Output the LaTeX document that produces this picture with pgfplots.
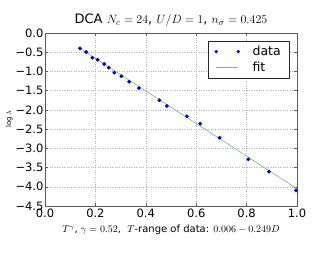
\documentclass[border=0pt]{standalone}
\usepackage{pgfplots}
\pgfplotsset{compat=1.18}
\usepackage{fontspec}
\setmainfont{DejaVu Sans}
\definecolor{fitgreen}{RGB}{110,190,110}
\definecolor{framegray}{RGB}{90,90,90}
\begin{document}
\begin{tikzpicture}[x=1pt,y=1pt]
\useasboundingbox (-45,-46) rectangle (274,206);
\begin{axis}[
  scale only axis,
  width=252pt, height=173pt,
  xmin=0, xmax=1, ymin=-4.5, ymax=0,
  xtick={0,0.2,0.4,0.6,0.8,1.0},
  xticklabels={0.0,0.2,0.4,0.6,0.8,1.0},
  ytick={0,-0.5,-1,-1.5,-2,-2.5,-3,-3.5,-4,-4.5},
  yticklabels={0.0,−0.5,−1.0,−1.5,−2.0,−2.5,−3.0,−3.5,−4.0,−4.5},
  tick label style={font=\fontsize{11.5}{13}\selectfont},
  xticklabel style={yshift=1pt},
  yticklabel style={xshift=2pt},
  tick align=inside,
  major tick length=3pt,
  tick style={framegray, thin},
  axis line style={framegray},
  grid=major,
  grid style={dotted, gray!60, line width=0.4pt},
  title={DCA $N_c=24$, $U/D=1$, $n_\sigma=0.425$},
  title style={font=\fontsize{13}{15}\selectfont, yshift=-3pt},
  xlabel={$T^\gamma$, $\gamma=0.52$,\ \ $T$-range of data: $0.006-0.249D$},
  xlabel style={font=\fontsize{10}{12}\selectfont, yshift=-1pt},
  ylabel={$\log\lambda$},
  ylabel style={font=\fontsize{7}{8}\selectfont, yshift=-4pt},
  legend style={at={(rel axis cs:0.968,0.954)}, anchor=north east,
    draw=black!85, thin, font=\fontsize{12.5}{14}\selectfont,
    row sep=1pt, inner xsep=6pt, inner ysep=3pt},
  legend cell align=left,
]
\addplot[only marks, mark=*, mark size=1.7pt, color=blue, mark options={draw=blue!60!black, fill=blue},
  legend image code/.code={
    \fill[blue] (0pt,0pt) circle (1.5pt);
    \fill[blue] (22pt,0pt) circle (1.5pt);
    \path (34pt,0pt);
  }] coordinates {
(0.139,-0.398) (0.163,-0.494) (0.188,-0.643) (0.209,-0.695) (0.235,-0.806)
(0.253,-0.903) (0.275,-1.033) (0.303,-1.126) (0.334,-1.267) (0.373,-1.431)
(0.454,-1.751) (0.484,-1.899) (0.563,-2.168) (0.616,-2.359) (0.693,-2.723)
(0.807,-3.287) (0.889,-3.607) (0.996,-4.093)
};
\addlegendentry{data}
\addplot[fitgreen, semithick,
  legend image code/.code={\draw[fitgreen, semithick] (0pt,0pt) -- (22pt,0pt); \path (34pt,0pt);}]
  coordinates {(0.132,-0.372) (1.0,-4.05)};
\addlegendentry{fit}
\end{axis}
\end{tikzpicture}
\end{document}
